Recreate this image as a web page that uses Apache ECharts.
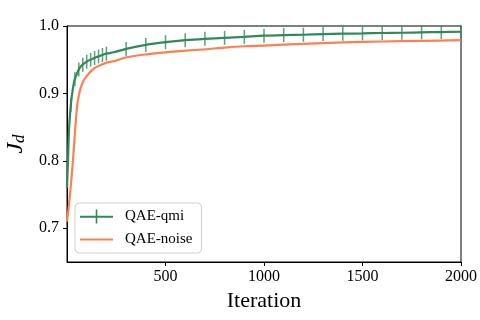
<!DOCTYPE html>
<html>
<head>
<meta charset="utf-8">
<script src="https://cdn.jsdelivr.net/npm/echarts@6/dist/echarts.min.js"></script>
<style>
	html, body { margin: 0; padding: 0; background: #fff; }
	#chart { width: 480px; height: 320px; }
</style>
</head>
<body>
<div id="chart"></div>
<script>
	// iterations where the curves were read
	var qmiIter = [0, 5, 10, 17, 25, 38, 50, 59, 70, 85, 100, 110, 120, 136, 150, 162, 188, 200, 238, 300, 400, 500, 600, 700, 800, 900, 1000, 1100, 1200, 1300, 1400, 1500, 1600, 1700, 1800, 1900, 2000];
	var qmiVals = [0.76, 0.80, 0.845, 0.875, 0.897, 0.92, 0.929, 0.935, 0.94, 0.944, 0.947, 0.949, 0.950, 0.952, 0.954, 0.955, 0.958, 0.959, 0.961, 0.966, 0.972, 0.976, 0.979, 0.981, 0.9825, 0.984, 0.9856, 0.9865, 0.987, 0.988, 0.9886, 0.989, 0.9896, 0.990, 0.9906, 0.991, 0.9915];
	// iterations that carry a tick marker on QAE-qmi
	var qmiMarks = [20, 40, 60, 80, 100, 120, 140, 160, 180, 200, 300, 400, 500, 600, 700, 800, 900, 1000, 1100, 1200, 1300, 1400, 1500, 1600, 1700, 1800, 1900, 2000];

	var noiseIter = [0, 10, 20, 30, 35, 45, 52, 60, 69, 86, 112, 137, 171, 205, 240, 303, 404, 501, 602, 700, 798, 900, 1000, 1200, 1400, 1600, 1800, 2000];
	var noiseVals = [0.71, 0.735, 0.765, 0.80, 0.82, 0.86, 0.883, 0.897, 0.908, 0.92, 0.930, 0.937, 0.942, 0.946, 0.948, 0.9536, 0.958, 0.961, 0.9634, 0.9654, 0.968, 0.970, 0.971, 0.9735, 0.9758, 0.977, 0.978, 0.979];

	var xTicks = [500, 1000, 1500, 2000];
	var yTicks = [0.7, 0.8, 0.9, 1.0];

	var green = '#2e8b57', orange = '#ff7f50';
	var font = '"Liberation Serif", "DejaVu Serif", serif';

	// interpolate qmi curve at marker positions so ticks sit on the line
	function valueAt(xs, ys, x) {
		for (var i = 1; i < xs.length; i++) {
			if (x <= xs[i]) {
				var t = (x - xs[i - 1]) / (xs[i] - xs[i - 1]);
				return ys[i - 1] + t * (ys[i] - ys[i - 1]);
			}
		}
		return ys[ys.length - 1];
	}

	var qmiData = [];
	for (var i = 0; i < qmiIter.length; i++) {
		qmiData.push([qmiIter[i], qmiVals[i]]);
	}
	var markData = [];
	for (var j = 0; j < qmiMarks.length; j++) {
		markData.push([qmiMarks[j], valueAt(qmiIter, qmiVals, qmiMarks[j])]);
	}
	var noiseData = [];
	for (var k = 0; k < noiseIter.length; k++) {
		noiseData.push([noiseIter[k], noiseVals[k]]);
	}

	var chart = echarts.init(document.getElementById('chart'));
	var option = {
		animation: false,
		backgroundColor: '#fff',
		grid: {
			left: 67,
			right: 19,
			top: 26,
			bottom: 58,
			containLabel: false,
			outerBoundsMode: 'none',
			show: true,
			borderColor: '#000',
			borderWidth: 1,
			backgroundColor: 'transparent'
		},
		legend: {
			left: 75,
			top: 203,
			orient: 'vertical',
			itemWidth: 33,
			itemHeight: 14,
			itemGap: 8,
			padding: [6, 9, 6, 5],
			borderColor: '#d0d0d0',
			borderWidth: 1,
			borderRadius: 4,
			backgroundColor: 'rgba(255,255,255,0.8)',
			textStyle: { fontFamily: font, fontSize: 15, color: '#000', padding: [0, 0, 0, 7] },
			data: [
				{ name: 'QAE-qmi', icon: 'path://M0,6.2h33v2h-33z M15.7,0h1.6v14h-1.6z' },
				{ name: 'QAE-noise', icon: 'path://M0,6.2h33v2h-33z' }
			]
		},
		xAxis: {
			type: 'value',
			min: 0,
			max: 2000,
			name: 'Iteration',
			nameLocation: 'middle',
			nameGap: 28,
			nameTextStyle: { fontFamily: font, fontSize: 22, color: '#000' },
			splitLine: { show: false },
			axisLine: { show: true, onZero: false, lineStyle: { color: '#000', width: 1 } },
			axisTick: { show: true, length: 4, customValues: xTicks, lineStyle: { color: '#000' } },
			axisLabel: {
				customValues: xTicks,
				margin: 7,
				fontFamily: font,
				fontSize: 16,
				color: '#000',
				formatter: function (v) { return String(v); }
			}
		},
		yAxis: {
			type: 'value',
			min: 0.65,
			max: 1.0,
			name: '{j|J}{d|d}',
			nameLocation: 'middle',
			nameRotate: 90,
			nameGap: 28,
			nameTextStyle: {
				rich: {
					j: { fontFamily: font, fontStyle: 'italic', fontSize: 24, color: '#000' },
					d: { fontFamily: font, fontStyle: 'italic', fontSize: 17, color: '#000', verticalAlign: 'bottom', padding: [8, 0, 0, 0] }
				}
			},
			splitLine: { show: false },
			axisLine: { show: true, onZero: false, lineStyle: { color: '#000', width: 1 } },
			axisTick: { show: true, length: 4, customValues: yTicks, lineStyle: { color: '#000' } },
			axisLabel: {
				customValues: yTicks,
				margin: 8,
				fontFamily: font,
				fontSize: 16,
				color: '#000',
				formatter: function (v) { return v.toFixed(1); }
			}
		},
		series: [{
			name: 'QAE-qmi',
			type: 'line',
			data: qmiData,
			symbol: 'none',
			smooth: 0.3,
			color: green,
			lineStyle: { color: green, width: 2.2 },
			z: 3
		}, {
			name: 'QAE-qmi',
			type: 'scatter',
			data: markData,
			symbol: 'rect',
			symbolSize: [1.5, 14],
			itemStyle: { color: green },
			z: 4
		}, {
			name: 'QAE-noise',
			type: 'line',
			data: noiseData,
			symbol: 'none',
			smooth: 0.3,
			color: orange,
			lineStyle: { color: orange, width: 2.2 },
			z: 2
		}]
	};
	chart.setOption(option);
</script>
</body>
</html>
